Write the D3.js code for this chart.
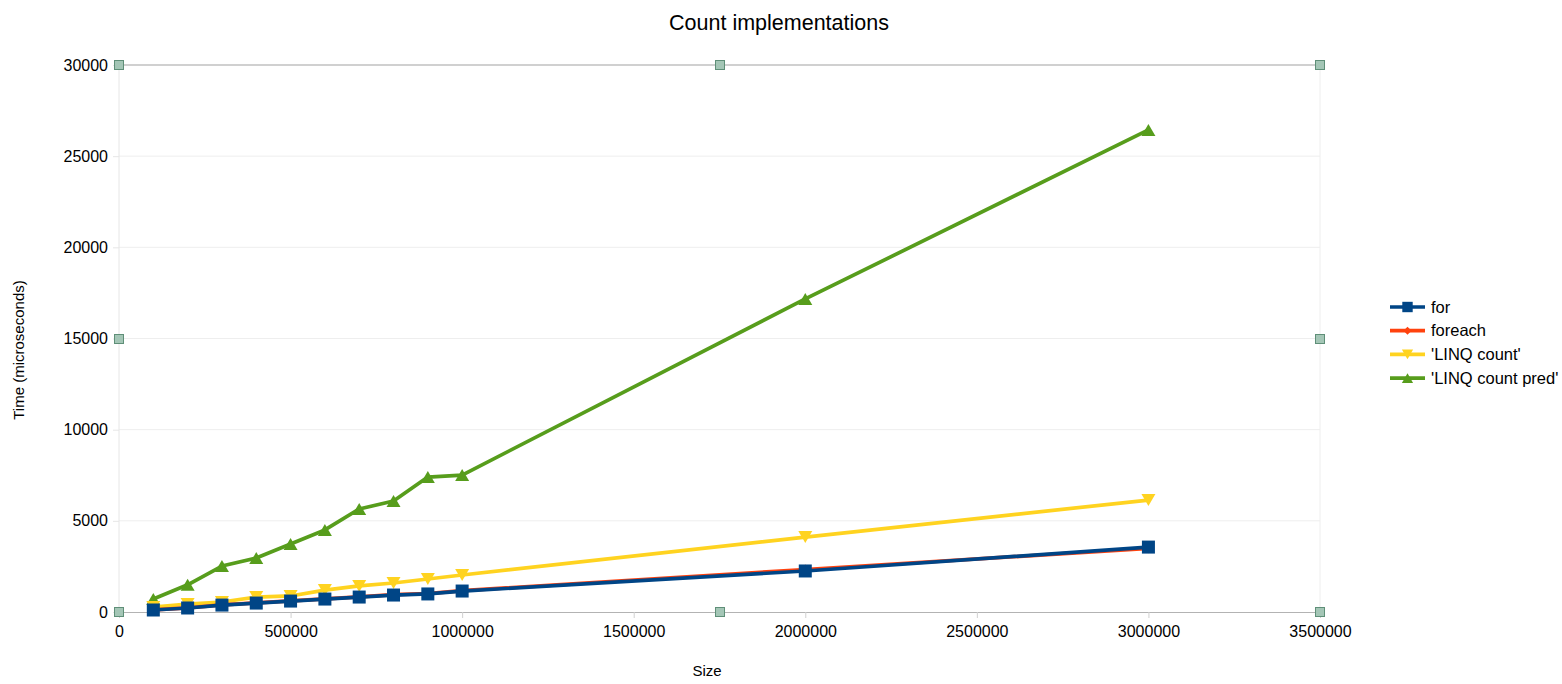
<!DOCTYPE html>
<html><head><meta charset="utf-8">
<script src="https://cdn.jsdelivr.net/npm/d3@7"></script>
<style>body{margin:0;background:#fff;font-family:"Liberation Sans",Arial,sans-serif}</style>
</head><body><svg id="c" width="1562" height="684"></svg>
<script>
const sizes = [100000,200000,300000,400000,500000,600000,700000,800000,900000,1000000,2000000,3000000];
const forVals = [110,220,380,490,600,710,820,930,990,1150,2250,3560];
const foreachVals = [120,230,390,500,610,720,830,950,1010,1170,2330,3490];
const linqCount = [270,440,550,820,880,1200,1430,1590,1810,2030,4110,6140];
const linqCountPred = [710,1490,2520,2960,3730,4500,5650,6090,7400,7510,17170,26440];
const seriesNames = ["for","foreach","'LINQ count'","'LINQ count pred'"];
const yTicks = [0,5000,10000,15000,20000,25000,30000];
const xTicks = [0,500000,1000000,1500000,2000000,2500000,3000000,3500000];

const svg = d3.select("#c");
const L=119,R=1320,T=65,B=612;
const x = d3.scaleLinear().domain([0,3500000]).range([L,R]);
const y = d3.scaleLinear().domain([0,30000]).range([B,T]);
const FF="Liberation Sans, Arial, sans-serif";

// gridlines
svg.append("g").selectAll("line").data(yTicks.slice(1,-1)).join("line")
  .attr("x1",L).attr("x2",R).attr("y1",d=>y(d)).attr("y2",d=>y(d)).attr("stroke","#eeeeee");
svg.append("line").attr("x1",L).attr("x2",L).attr("y1",T).attr("y2",B).attr("stroke","#e6e6e6");
svg.append("line").attr("x1",R).attr("x2",R).attr("y1",T).attr("y2",B).attr("stroke","#eeeeee");
svg.append("line").attr("x1",L).attr("x2",R).attr("y1",T).attr("y2",T).attr("stroke","#c0c0c0").attr("stroke-width",1.3);

// y axis
const ya = svg.append("g").attr("transform",`translate(${L},0)`)
  .call(d3.axisLeft(y).tickValues(yTicks).tickSize(6).tickPadding(5).tickFormat(d3.format("d")));
ya.select(".domain").remove();
ya.selectAll(".tick line").attr("stroke","#e6e6e6");
ya.selectAll("text").attr("font-size",16).attr("fill","#000").attr("font-family",FF);

// x axis
const xa = svg.append("g").attr("transform",`translate(0,${B})`)
  .call(d3.axisBottom(x).tickValues(xTicks).tickSize(6).tickPadding(8).tickFormat(d3.format("d")));
xa.select(".domain").attr("stroke","#b3b3b3").attr("d",`M${L},0.5H${R}`);
xa.selectAll(".tick line").attr("stroke","#d0d0d0");
xa.selectAll("text").attr("font-size",16).attr("fill","#000").attr("font-family",FF);

// titles
svg.append("text").attr("x",779).attr("y",30).attr("text-anchor","middle").attr("font-size",21.5).attr("font-family",FF).text("Count implementations");
svg.append("text").attr("x",707).attr("y",676).attr("text-anchor","middle").attr("font-size",15).attr("font-family",FF).text("Size");
svg.append("text").attr("transform","translate(24,350) rotate(-90)").attr("text-anchor","middle").attr("font-size",15).attr("font-family",FF).text("Time (microseconds)");

const series = [
  {name:seriesNames[0], vals:forVals, color:"#004586", sym:"square"},
  {name:seriesNames[1], vals:foreachVals, color:"#ff420e", sym:"diamond"},
  {name:seriesNames[2], vals:linqCount, color:"#ffd320", sym:"down"},
  {name:seriesNames[3], vals:linqCountPred, color:"#579d1c", sym:"up"}
];
function sym(g,s,cx,cy,scale){
  scale=scale||1;
  if(s==="square") g.append("rect").attr("x",cx-6.5*scale).attr("y",cy-6.5*scale).attr("width",13*scale).attr("height",13*scale);
  else if(s==="diamond") g.append("path").attr("d",`M${cx},${cy-5*scale}L${cx+5*scale},${cy}L${cx},${cy+5*scale}L${cx-5*scale},${cy}Z`);
  else if(s==="down") g.append("path").attr("d",`M${cx-7*scale},${cy-6*scale}L${cx+7*scale},${cy-6*scale}L${cx},${cy+6*scale}Z`);
  else g.append("path").attr("d",`M${cx-7*scale},${cy+6*scale}L${cx+7*scale},${cy+6*scale}L${cx},${cy-6*scale}Z`);
}
const line = d3.line().x(d=>x(d[0])).y(d=>y(d[1]));
const order=[3,2,1,0];
order.forEach(i=>{
  const s=series[i];
  const pts=sizes.map((v,k)=>[v,s.vals[k]]);
  const g=svg.append("g").attr("fill",s.color);
  g.append("path").attr("d",line(pts)).attr("fill","none").attr("stroke",s.color).attr("stroke-width",3.7).attr("stroke-linejoin","round");
  pts.forEach(p=>sym(g,s.sym,x(p[0]),y(p[1])));
});

// handles
const hs=[[L,T],[(L+R)/2,T],[R,T],[L,(T+B)/2],[R,(T+B)/2],[L,B],[(L+R)/2,B],[R,B]];
svg.append("g").selectAll("rect").data(hs).join("rect")
  .attr("x",d=>Math.round(d[0])-4.5).attr("y",d=>Math.round(d[1])-4.5).attr("width",9).attr("height",9)
  .attr("fill","#a4c6b6").attr("stroke","#5f8f78").attr("stroke-width",1);

// legend
const lg=svg.append("g");
series.forEach((s,i)=>{
  const cy=307+i*23.7;
  const g=lg.append("g").attr("fill",s.color);
  g.append("line").attr("x1",1390).attr("x2",1425).attr("y1",cy).attr("y2",cy).attr("stroke",s.color).attr("stroke-width",3.7);
  sym(g,s.sym,1407.5,cy,0.8);
  lg.append("text").attr("x",1431).attr("y",cy+5.5).attr("font-size",16.5).attr("font-family",FF).text(s.name);
});
</script></body></html>
